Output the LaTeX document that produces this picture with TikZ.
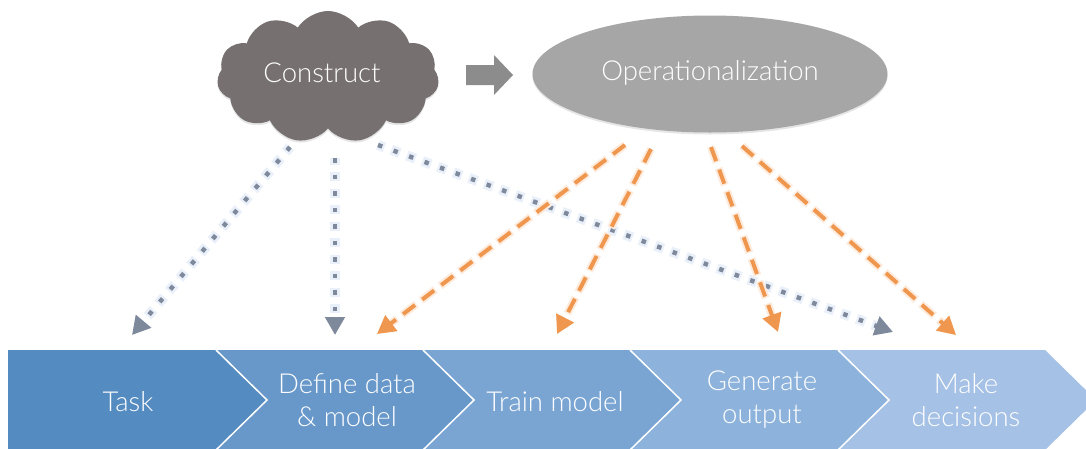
\documentclass[tikz,border=0pt]{standalone}
\usepackage{fontspec}
\setmainfont{Lato}[UprightFont=* Light]
\usetikzlibrary{shapes.symbols,shapes.geometric,arrows.meta,shadows}
\definecolor{cloudc}{HTML}{767170}
\definecolor{ellc}{HTML}{A6A6A6}
\definecolor{barrow}{HTML}{8C8C8C}
\definecolor{dotc}{HTML}{7F899C}
\definecolor{dotglow}{HTML}{EAF0FA}
\definecolor{orc}{HTML}{F0974F}
\definecolor{orglow}{HTML}{FDEBDD}
\definecolor{ch1}{HTML}{548BC1}
\definecolor{ch2}{HTML}{6898CA}
\definecolor{ch3}{HTML}{7AA5D3}
\definecolor{ch4}{HTML}{8DB2DB}
\definecolor{ch5}{HTML}{A5C1E5}
\tikzset{
  lbl/.style={text=white, font=\fontsize{27.5}{33}\selectfont, align=center, inner sep=0pt},
  chev/.style={draw=white, line width=1.5pt, line join=miter},
  dotarrow/.style={draw=dotc, line width=4.5pt, dash pattern=on 4.5pt off 12pt,
    -{Triangle[length=18pt,width=19pt]},
    preaction={draw=dotglow, line width=10pt, dash pattern=on 9pt off 7.5pt, dash phase=2.25pt}},
  orarrow/.style={draw=orc, line width=4pt, dash pattern=on 15pt off 9pt,
    -{Triangle[length=18pt,width=19pt]},
    preaction={draw=orglow, line width=8pt, dash pattern=on 18pt off 6pt, dash phase=1.5pt}},
}
\begin{document}
\begin{tikzpicture}[x=1pt,y=-1pt]
\clip (0,0) rectangle (1086,448);
\fill[white] (0,0) rectangle (1086,448);
% chevrons
\fill[ch1] (8,350) -- (216,350) -- (267,400) -- (216,450) -- (8,450) -- cycle;
\fill[ch2] (216,350) -- (423,350) -- (474,400) -- (423,450) -- (216,450) -- (267,400) -- cycle;
\fill[ch3] (423,350) -- (630,350) -- (681,400) -- (630,450) -- (423,450) -- (474,400) -- cycle;
\fill[ch4] (630,350) -- (838,350) -- (889,400) -- (838,450) -- (630,450) -- (681,400) -- cycle;
\fill[ch5] (838,350) -- (1045,350) -- (1096,400) -- (1045,450) -- (838,450) -- (889,400) -- cycle;
\draw[chev] (216,350) -- (267,400) -- (216,450);
\draw[chev] (423,350) -- (474,400) -- (423,450);
\draw[chev] (630,350) -- (681,400) -- (630,450);
\draw[chev] (838,350) -- (889,400) -- (838,450);
\node[lbl] (task) at (128,402) {Task};
\node[lbl] (define) at (347,400) {Define data\\\& model};
\node[lbl] (train) at (555,402) {Train model};
\node[lbl] (generate) at (762,400) {Generate\\output};
\node[lbl] (make) at (966,400) {Make\\decisions};
% top shapes
\node[cloud, cloud puffs=11, cloud puff arc=115, aspect=1.7, fill=cloudc,
  minimum width=222pt, minimum height=132pt, inner sep=0pt,
  drop shadow={opacity=0.2, shadow xshift=0pt, shadow yshift=-2pt}] (cloud) at (328,77) {};
\node[lbl] (constructtxt) at (322,73) {Construct};
\node[ellipse, fill=ellc, minimum width=355pt, minimum height=117pt, inner sep=0pt,
  drop shadow={opacity=0.2, shadow xshift=0pt, shadow yshift=-2pt}] (oper) at (710,74) {};
\node[lbl] (opertxt) at (710,73) {Operationalization};
\fill[barrow] (466,65) -- (494,65) -- (494,55) -- (513,75) -- (494,95) -- (494,85) -- (466,85) -- cycle;
% connector ends
\coordinate (s1) at (290,147);
\coordinate (e1) at (132,335);
\coordinate (s2) at (335,158);
\coordinate (e2) at (335,335);
\coordinate (s3) at (378,145);
\coordinate (e3) at (893,332);
\coordinate (o1) at (625,145);
\coordinate (f1) at (377,334);
\coordinate (o2) at (651,149);
\coordinate (f2) at (557,334);
\coordinate (o3) at (711,147);
\coordinate (f3) at (778,332);
\coordinate (o4) at (742,146);
\coordinate (f4) at (956,335);
\draw[dotarrow] (s1) -- (e1);
\draw[dotarrow] (s2) -- (e2);
\draw[dotarrow] (s3) -- (e3);
\draw[orarrow] (o1) -- (f1);
\draw[orarrow] (o2) -- (f2);
\draw[orarrow] (o3) -- (f3);
\draw[orarrow] (o4) -- (f4);
\end{tikzpicture}
\end{document}
